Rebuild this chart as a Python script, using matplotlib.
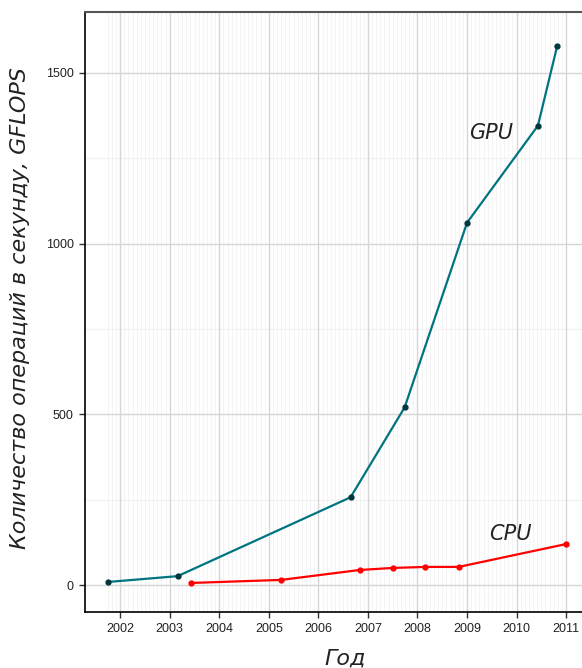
import numpy as np
import matplotlib
matplotlib.use("Agg")
import matplotlib.pyplot as plt

plt.rcParams['font.family'] = ['Liberation Sans', 'DejaVu Sans']

# GPU performance, GFLOPS
gpu_year = [2001.76, 2003.16, 2006.65, 2007.74, 2009.0, 2010.43, 2010.82]
gpu_gflops = [9, 26, 257, 520, 1061, 1345, 1579]

# CPU performance, GFLOPS
cpu_year = [2003.42, 2005.25, 2006.83, 2007.5, 2008.16, 2008.83, 2011.0]
cpu_gflops = [6, 15, 44, 50, 53, 53, 120]

year_ticks = list(range(2002, 2012))
gflops_ticks = [0, 500, 1000, 1500]

fig = plt.figure(figsize=(5.82, 6.68), dpi=100)
ax = fig.add_axes([85 / 582, 56 / 668, 1 - 85 / 582, 600 / 668])

ax.set_xlim(2001.29, 2011.32)
ax.set_ylim(-79, 1678)

# minor grid: monthly verticals, half-step horizontals
for m in np.arange(2001.75, 2011.01, 1 / 12):
    ax.axvline(m, color='#f3f3f3', lw=0.6, zorder=0)
for h in [250, 750, 1250]:
    ax.axhline(h, color='#f2f2f2', lw=1.0, zorder=0)
for t in year_ticks:
    ax.axvline(t, color='#d6d6d6', lw=1.0, zorder=1)
for t in gflops_ticks:
    ax.axhline(t, color='#d6d6d6', lw=1.0, zorder=1)

ax.plot(gpu_year, gpu_gflops, color='#007480', lw=1.6, zorder=3)
ax.plot(gpu_year, gpu_gflops, 'o', color='#00363c', ms=3.5, zorder=4)
ax.plot(cpu_year, cpu_gflops, color='#ff0000', lw=1.6, zorder=3)
ax.plot(cpu_year, cpu_gflops, 'o', color='#ff0000', ms=3.5, zorder=4)

lab = dict(family='DejaVu Sans', style='italic', stretch='normal',
           color='#222222', ha='center', va='center', fontsize=15)
ax.text(2009.48, 1325, 'GPU', **lab)
ax.text(2009.87, 150, 'CPU', **lab)

ax.set_xticks(year_ticks)
ax.set_xticklabels([str(y) for y in year_ticks])
ax.set_yticks(gflops_ticks)
ax.tick_params(axis='both', labelsize=9, length=4, width=1, color='#333333',
               labelcolor='#222222', pad=4)

ax.spines['right'].set_visible(False)
ax.spines['top'].set_color('#555555')
ax.spines['top'].set_linewidth(1.5)
ax.spines['left'].set_linewidth(1.2)
ax.spines['bottom'].set_linewidth(1.2)

fig.text(345 / 582, 1 - 659 / 668, 'Год', **dict(lab, fontsize=16))
fig.text(20 / 582, 1 - 308 / 668, 'Количество операций в секунду, GFLOPS',
         rotation=90, **dict(lab, fontsize=16))

fig.savefig('out.png', dpi=100)
